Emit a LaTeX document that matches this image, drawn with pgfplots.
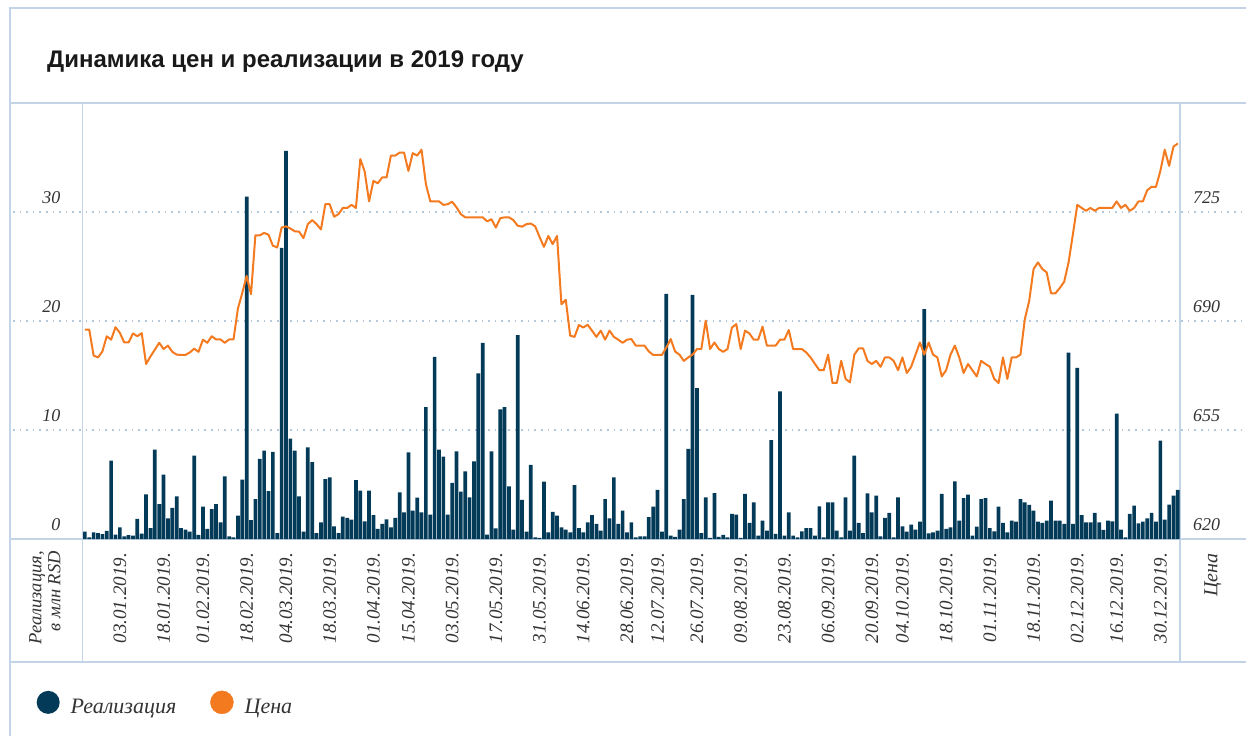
\documentclass[border=0pt]{standalone}
\usepackage{pgfplots}
\pgfplotsset{compat=1.18}
\usepackage{pgfplotstable}
\usepackage{fontspec}
\setmainfont{Liberation Serif}
\newfontfamily\titlefont{Liberation Sans}

\definecolor{navy}{RGB}{3,58,88}
\definecolor{orng}{RGB}{244,122,32}
\definecolor{framec}{RGB}{194,212,230}
\definecolor{gridc}{RGB}{180,200,220}
\definecolor{txt}{RGB}{51,51,51}

\newcommand\lab{\fontsize{18}{19}\selectfont\itshape}
\newcommand\datelab{\fontsize{19}{20}\selectfont\itshape}

% Realizacija, mln RSD (one row per trading day)
\pgfplotstableread[row sep=\\]{v\\
0.67\\0.15\\0.6\\0.55\\0.45\\0.75\\7.2\\0.4\\1.07\\0.25\\0.35\\0.3\\1.85\\0.5\\4.1\\1.0\\8.2\\3.2\\5.9\\1.9\\
2.85\\3.9\\1.0\\0.85\\0.67\\7.65\\0.37\\2.97\\0.92\\2.75\\3.2\\1.53\\5.75\\0.25\\0.15\\2.14\\5.44\\31.4\\1.74\\3.67\\7.34\\
8.1\\4.4\\8.0\\0.55\\26.7\\35.6\\9.2\\8.1\\3.9\\0.67\\8.4\\7.06\\0.55\\1.53\\5.5\\5.65\\1.16\\0.55\\2.05\\1.93\\
1.77\\5.41\\4.43\\1.62\\4.43\\2.2\\0.92\\1.38\\1.8\\1.07\\1.93\\4.28\\2.45\\7.95\\2.6\\3.8\\2.45\\12.1\\2.23\\16.7\\8.2\\7.55\\
2.23\\5.14\\8.04\\4.34\\6.2\\3.82\\7.12\\15.2\\18.0\\0.4\\8.04\\0.98\\11.9\\12.1\\4.83\\0.86\\18.7\\3.58\\0.67\\6.79\\
0.15\\0.1\\5.26\\0.6\\2.5\\2.14\\1.07\\0.86\\0.6\\4.95\\1.0\\0.6\\1.53\\2.2\\1.38\\0.76\\3.67\\1.9\\5.66\\1.38\\2.6\\0.6\\
1.53\\0.15\\0.25\\0.25\\2.0\\2.97\\4.5\\0.67\\22.5\\0.3\\0.2\\0.86\\3.67\\8.26\\22.4\\13.85\\0.55\\3.82\\0.1\\4.22\\
0.2\\0.37\\0.15\\2.3\\2.23\\0.1\\4.13\\1.47\\3.36\\0.3\\1.68\\0.76\\9.08\\0.46\\13.55\\0.3\\2.45\\0.3\\0.15\\0.7\\1.0\\
1.0\\0.3\\3.0\\0.15\\3.36\\3.36\\0.76\\0.15\\3.82\\0.76\\7.65\\1.47\\0.55\\4.19\\2.45\\3.98\\0.25\\1.93\\2.39\\0.15\\
3.82\\1.16\\0.67\\1.31\\0.86\\1.59\\21.1\\0.52\\0.6\\0.76\\4.13\\0.92\\1.07\\5.29\\1.68\\3.76\\4.07\\0.3\\1.13\\3.67\\3.76\\1.0\\
0.7\\2.97\\1.47\\0.6\\1.68\\1.59\\3.67\\3.36\\3.12\\2.6\\1.59\\1.47\\1.68\\3.52\\1.68\\1.68\\1.38\\17.1\\1.38\\15.7\\
2.2\\1.53\\1.53\\2.39\\1.53\\0.83\\1.68\\1.62\\11.5\\0.86\\0.15\\2.3\\3.06\\1.44\\1.59\\1.9\\2.39\\1.59\\9.02\\1.77\\3.15\\3.98\\4.5\\
}\sales

% Cena
\pgfplotstableread[row sep=\\]{p\\
687.2\\687.2\\678.9\\678.3\\680.2\\685.1\\684.0\\688.0\\686.2\\683.1\\683.1\\686.0\\685.1\\686.1\\676.2\\678.6\\680.8\\683.0\\681.0\\682.1\\
680.1\\679.2\\679.1\\679.1\\679.9\\681.1\\680.1\\684.0\\683.0\\685.1\\684.1\\684.1\\683.0\\684.1\\684.1\\694.0\\699.0\\704.5\\698.6\\717.5\\717.5\\
718.3\\717.7\\714.2\\713.6\\720.0\\720.4\\719.7\\718.8\\718.7\\716.6\\721.1\\722.4\\721.1\\719.4\\727.5\\727.5\\723.5\\724.3\\726.3\\726.3\\
727.3\\726.3\\742.0\\738.0\\728.4\\735.0\\734.2\\736.1\\736.1\\743.1\\743.1\\744.1\\744.1\\738.2\\743.9\\743.1\\745.0\\734.0\\728.4\\728.4\\728.4\\727.3\\
727.5\\728.3\\726.5\\724.3\\723.3\\723.3\\723.3\\723.3\\723.3\\722.0\\722.7\\720.0\\723.0\\723.3\\723.3\\722.4\\720.6\\720.3\\721.1\\721.3\\
720.4\\717.0\\713.8\\717.3\\714.7\\717.3\\695.4\\696.8\\685.3\\684.9\\688.7\\687.9\\688.8\\686.9\\684.9\\686.9\\684.0\\686.9\\684.9\\684.0\\683.0\\684.0\\
684.2\\682.1\\682.1\\682.1\\680.2\\679.1\\679.1\\679.1\\681.5\\684.2\\680.2\\679.2\\677.2\\678.3\\679.2\\681.0\\681.0\\690.1\\681.0\\683.1\\
681.0\\680.1\\681.0\\687.9\\689.0\\681.0\\686.9\\686.0\\684.0\\684.0\\688.2\\682.1\\682.1\\682.1\\684.0\\684.0\\687.1\\681.0\\681.0\\681.0\\679.9\\
678.3\\676.2\\674.2\\674.2\\679.2\\670.1\\670.1\\677.2\\671.4\\670.3\\679.2\\681.2\\681.2\\677.2\\676.2\\677.2\\675.3\\678.3\\678.3\\677.2\\
674.2\\678.3\\673.3\\675.3\\679.2\\683.1\\679.2\\683.1\\679.2\\678.3\\672.2\\674.2\\679.2\\682.1\\678.3\\673.3\\676.2\\674.2\\672.2\\677.2\\676.2\\675.3\\
671.4\\670.1\\678.3\\671.4\\678.3\\678.3\\679.2\\690.6\\696.5\\706.7\\708.8\\706.7\\705.6\\698.9\\698.9\\700.6\\702.6\\708.8\\717.9\\727.3\\
726.3\\725.4\\726.3\\725.4\\726.3\\726.3\\726.3\\726.3\\728.4\\726.3\\727.3\\725.4\\726.3\\728.4\\728.4\\732.0\\733.1\\733.1\\738.2\\745.0\\739.8\\746.0\\747.0\\
}\price

\pgfplotsset{
  twin/.style={
    scale only axis, width=1097.3pt, height=436pt,
    xmin=-0.5, xmax=250.5,
    axis line style={draw=none}, major tick length=0pt,
  },
}

\begin{document}
\begin{tikzpicture}
% page frame, in pixels of the layout; the axis box starts at (82.7,197)
\begin{scope}[x=1pt, y=1pt, shift={(-82.7pt,-197pt)}]
\useasboundingbox (0,0) rectangle (1246,736);
\begin{scope}[framec, line width=1.5pt]
\draw (10,0) -- (10,728) -- (1246,728);
\draw (10,633) -- (1246,633);
\draw (10,197) -- (1246,197);
\draw (10,74) -- (1246,74);
\draw (82.7,74) -- (82.7,633);
\draw (1180,74) -- (1180,633);
\end{scope}
\foreach \yy in {306,415,524}
  \draw[gridc, line width=1.6pt, dash pattern=on 1.6pt off 5pt] (13,\yy) -- (1246,\yy);
\node[anchor=base west, inner sep=0pt, text=black!90,
  font=\titlefont\bfseries\fontsize{24}{26}\selectfont] at (47,668)
  {Динамика цен и реализации в 2019 году};
\node[rotate=90, anchor=north east, align=right, inner sep=0pt, text=txt,
  font=\fontsize{18.5}{19}\selectfont\itshape] at (29,185) {Реализация,\\ в млн RSD};
\node[rotate=90, anchor=north east, inner sep=0pt, text=txt,
  font=\fontsize{20}{21}\selectfont\itshape] at (1204,183) {Цена};
\end{scope}

\begin{axis}[twin,
  ymin=0, ymax=40,
  ytick={0,10,20,30}, yticklabels={0,10,20,30},
  yticklabel style={font=\lab, text=txt, anchor=south east, inner sep=0pt, xshift=-22pt, yshift=8pt},
  xtick={8,18,27,37,46,56,66,74,84,94,104,114,124,131,140,150,160,170,180,187,197,207,217,227,236,246},
  xticklabels={03.01.2019.,18.01.2019.,01.02.2019.,18.02.2019.,04.03.2019.,18.03.2019.,01.04.2019.,15.04.2019.,03.05.2019.,17.05.2019.,31.05.2019.,14.06.2019.,28.06.2019.,12.07.2019.,26.07.2019.,09.08.2019.,23.08.2019.,06.09.2019.,20.09.2019.,04.10.2019.,18.10.2019.,01.11.2019.,18.11.2019.,02.12.2019.,16.12.2019.,30.12.2019.},
  xticklabel style={font=\datelab, text=txt, rotate=90, anchor=east, inner sep=0pt},
  xticklabel shift=14pt,
  legend style={at={(axis description cs:-0.0421,-0.3761)}, anchor=west,
    draw=none, fill=none, inner sep=0pt, legend columns=-1,
    font=\fontsize{22}{23}\selectfont\itshape, text=txt, nodes={inner sep=0pt},
    /tikz/every odd column/.append style={column sep=11pt},
    /tikz/every even column/.append style={column sep=34pt}},
]
\addplot[ybar, bar width=0.85, bar shift=0pt, fill=navy, draw=none,
  legend image code/.code={\fill[navy] (11.5pt,5pt) circle (11.5pt);}]
  table[x expr=\coordindex, y=v]{\sales};
\addlegendentry{Реализация}
\addlegendimage{legend image code/.code={\fill[orng] (11.5pt,5pt) circle (11.5pt);}}
\addlegendentry{Цена}
\end{axis}

\begin{axis}[twin,
  ymin=620, ymax=760,
  axis y line*=right, xtick=\empty,
  ytick={620,655,690,725}, yticklabels={620,655,690,725},
  yticklabel style={font=\lab, text=txt, anchor=south west, inner sep=0pt, xshift=13pt, yshift=8pt},
]
\addplot[orng, line width=2pt, line join=round, mark=none]
  table[x expr=\coordindex, y=p]{\price};
\end{axis}
\end{tikzpicture}
\end{document}
